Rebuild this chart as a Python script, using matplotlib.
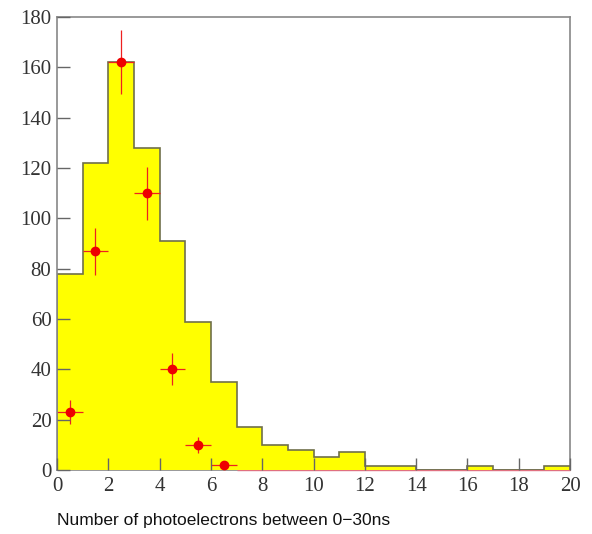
import numpy as np
import matplotlib.pyplot as plt

# histogram of number of photoelectrons (bins of width 1, 0..20)
bin_edges = np.arange(0, 21, 1)
hist_counts = [78, 122, 162, 128, 91, 59, 35, 17, 10, 8,
               5, 7, 1.5, 1.5, 0, 0, 1.5, 0, 0, 1.5]

# data points overlaid (bin centres)
data_x = [0.5, 1.5, 2.5, 3.5, 4.5, 5.5, 6.5]
data_y = [23, 87, 162, 110, 40, 10, 2]
data_err = [4.8, 9.3, 12.7, 10.5, 6.3, 3.2, 1.4]

# empty bins shown only as horizontal bars on zero
zero_x = [7.5, 8.5, 9.5, 10.5, 11.5, 12.5, 13.5, 14.5, 15.5, 16.5, 17.5, 18.5, 19.5]
zero_y = [0] * len(zero_x)

fig = plt.figure(figsize=(5.92, 5.34), dpi=100)
ax = fig.add_axes([0.0963, 0.1199, 0.8667, 0.848])

# zero-bin bars sit under the histogram so the fill hides them
zb = ax.errorbar(zero_x, zero_y, xerr=0.5, fmt='none', ecolor='#e07080',
                 elinewidth=1.0, zorder=3)
for c in zb.lines[2]:
    c.set_clip_on(False)

ax.stairs(hist_counts, bin_edges, fill=True, facecolor='#ffff00',
          edgecolor='none', zorder=3.5)
ax.stairs(hist_counts, bin_edges, fill=False, edgecolor='#6f6f4a',
          linewidth=1.2, zorder=3.6)

ax.errorbar(data_x, data_y, yerr=data_err, xerr=0.5, fmt='o', color='#ee0000',
            ecolor='#ee2020', elinewidth=0.9, markersize=6, zorder=4)

ax.set_xlim(0, 20)
ax.set_ylim(0, 180)
ax.set_xticks(np.arange(0, 21, 2))
ax.set_yticks(np.arange(0, 181, 20))

for s in ax.spines.values():
    s.set_color('#888888')
    s.set_linewidth(1.2)
ax.spines['left'].set_zorder(5)

# ticks drawn on top of the yellow fill
ax.xaxis.set_zorder(5)
ax.yaxis.set_zorder(5)

ax.tick_params(direction='in', length=9, width=1, color='#666666',
               labelsize=15, labelcolor='#333333')
ax.tick_params(axis='x', pad=5)
ax.tick_params(axis='y', pad=4)
for lab in ax.get_xticklabels() + ax.get_yticklabels():
    lab.set_family('Liberation Serif')

fig.text(0.0963, 0.026, 'Number of photoelectrons between 0\u221230ns',
         fontsize=12.5, family='Liberation Sans', color='#111111',
         ha='left', va='center')

fig.savefig('out.png', dpi=100, facecolor='white')
